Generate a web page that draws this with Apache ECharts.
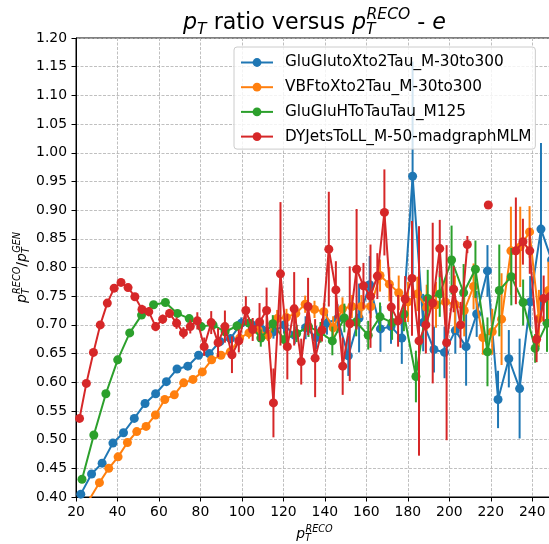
<!DOCTYPE html>
<html>
<head>
<meta charset="utf-8">
<script src="https://cdn.jsdelivr.net/npm/echarts@6/dist/echarts.min.js"></script>
<style>html,body{margin:0;padding:0;background:#fff;}#c{width:549px;height:544px;}</style>
</head>
<body>
<div id="c"></div>
<script>
// ---------------- data ----------------
const seriesNames = ['GluGlutoXto2Tau_M-30to300', 'VBFtoXto2Tau_M-30to300', 'GluGluHToTauTau_M125', 'DYJetsToLL_M-50-madgraphMLM'];
const seriesColors = ['#1f77b4', '#ff7f0e', '#2ca02c', '#d62728'];

const xAxisMin = 20, xAxisMax = 250, xAxisStep = 20;
const yAxisMin = 0.40, yAxisMax = 1.20, yAxisStep = 0.05;

// GluGlutoXto2Tau_M-30to300
const gluX = [22.3, 27.5, 32.6, 37.8, 42.9, 48.1, 53.3, 58.4, 63.6, 68.7, 73.9, 79.1, 84.2, 89.4, 94.5, 99.7, 104.9, 110.0, 115.2, 120.3, 125.5, 130.7, 135.8, 141.0, 146.1, 151.3, 156.5, 161.6, 166.8, 171.9, 177.1, 182.3, 187.4, 192.6, 197.7, 202.9, 208.1, 213.2, 218.4, 223.5, 228.7, 233.9, 239.0, 244.2, 249.3];
const gluY = [0.405, 0.440, 0.459, 0.494, 0.512, 0.537, 0.563, 0.580, 0.601, 0.623, 0.628, 0.647, 0.650, 0.671, 0.676, 0.703, 0.700, 0.691, 0.688, 0.700, 0.682, 0.695, 0.678, 0.703, 0.711, 0.646, 0.712, 0.770, 0.693, 0.697, 0.677, 0.959, 0.704, 0.657, 0.652, 0.690, 0.662, 0.719, 0.794, 0.570, 0.641, 0.589, 0.740, 0.867, 0.813];
const gluErr = [0.003, 0.003, 0.003, 0.003, 0.003, 0.003, 0.003, 0.003, 0.003, 0.005, 0.005, 0.005, 0.005, 0.008, 0.008, 0.01, 0.01, 0.012, 0.012, 0.015, 0.015, 0.02, 0.02, 0.02, 0.025, 0.035, 0.06, 0.05, 0.04, 0.03, 0.045, 0.2, 0.05, 0.04, 0.045, 0.04, 0.068, 0.04, 0.045, 0.05, 0.05, 0.087, 0.045, 0.15, 0.08];

// VBFtoXto2Tau_M-30to300
const vbfX = [22.3, 26.8, 31.3, 35.8, 40.3, 44.8, 49.3, 53.8, 58.3, 62.8, 67.4, 71.9, 76.4, 80.9, 85.4, 89.9, 94.4, 98.9, 103.4, 107.9, 112.5, 117.0, 121.5, 126.0, 130.5, 135.0, 139.5, 144.0, 148.5, 153.0, 157.6, 162.1, 166.6, 171.1, 175.6, 180.1, 184.6, 189.1, 193.6, 198.1, 202.7, 207.2, 211.7, 216.2, 220.7, 225.2, 229.7, 234.2, 238.7, 243.2, 247.8];
const vbfY = [0.370, 0.398, 0.425, 0.450, 0.470, 0.495, 0.514, 0.523, 0.543, 0.570, 0.578, 0.599, 0.605, 0.618, 0.639, 0.647, 0.653, 0.677, 0.686, 0.691, 0.682, 0.711, 0.713, 0.720, 0.736, 0.727, 0.723, 0.695, 0.728, 0.732, 0.732, 0.732, 0.786, 0.771, 0.756, 0.740, 0.754, 0.730, 0.735, 0.740, 0.736, 0.725, 0.767, 0.678, 0.688, 0.710, 0.829, 0.836, 0.862, 0.711, 0.760];
const vbfErr = [0.003, 0.003, 0.003, 0.003, 0.003, 0.003, 0.003, 0.003, 0.003, 0.003, 0.003, 0.005, 0.005, 0.005, 0.005, 0.005, 0.005, 0.01, 0.01, 0.01, 0.01, 0.015, 0.015, 0.015, 0.015, 0.015, 0.015, 0.02, 0.02, 0.02, 0.02, 0.02, 0.028, 0.03, 0.03, 0.035, 0.03, 0.04, 0.04, 0.04, 0.05, 0.045, 0.04, 0.03, 0.04, 0.08, 0.077, 0.07, 0.045, 0.05, 0.05];

// GluGluHToTauTau_M125
const hX = [22.9, 28.6, 34.4, 40.1, 45.9, 51.6, 57.4, 63.1, 68.9, 74.6, 80.4, 86.1, 91.9, 97.6, 103.4, 109.1, 114.9, 120.6, 126.4, 132.1, 137.9, 143.6, 149.4, 155.1, 160.9, 166.6, 172.4, 178.1, 183.9, 189.6, 195.4, 201.1, 206.9, 212.6, 218.4, 224.1, 229.9, 235.6, 241.4, 247.1];
const hY = [0.431, 0.508, 0.580, 0.639, 0.686, 0.717, 0.735, 0.739, 0.720, 0.711, 0.697, 0.700, 0.688, 0.698, 0.703, 0.677, 0.702, 0.674, 0.685, 0.697, 0.687, 0.672, 0.712, 0.705, 0.682, 0.714, 0.704, 0.719, 0.610, 0.746, 0.754, 0.813, 0.756, 0.797, 0.653, 0.760, 0.784, 0.739, 0.659, 0.703];
const hErr = [0.003, 0.003, 0.003, 0.003, 0.003, 0.003, 0.003, 0.003, 0.003, 0.003, 0.008, 0.008, 0.008, 0.008, 0.01, 0.015, 0.015, 0.015, 0.015, 0.018, 0.018, 0.025, 0.025, 0.025, 0.025, 0.025, 0.03, 0.03, 0.045, 0.05, 0.04, 0.06, 0.05, 0.05, 0.06, 0.08, 0.05, 0.04, 0.025, 0.05];

// DYJetsToLL_M-50-madgraphMLM
const dyX = [21.7, 25.0, 28.4, 31.7, 35.1, 38.4, 41.7, 45.1, 48.4, 51.8, 55.1, 58.4, 61.8, 65.1, 68.5, 71.8, 75.1, 78.5, 81.8, 85.2, 88.5, 91.8, 95.2, 98.5, 101.9, 105.2, 108.5, 111.9, 115.2, 118.6, 121.9, 125.2, 128.6, 131.9, 135.3, 138.6, 141.9, 145.3, 148.6, 152.0, 155.3, 158.6, 162.0, 165.3, 168.7, 172.0, 175.3, 178.7, 182.0, 185.4, 188.7, 192.0, 195.4, 198.7, 202.1, 205.4, 208.7, 212.1, 215.4, 218.8, 222.1, 225.4, 228.8, 232.1, 235.5, 238.8, 242.1, 245.5, 248.8];
const dyY = [0.537, 0.598, 0.652, 0.700, 0.738, 0.764, 0.774, 0.765, 0.749, 0.727, 0.723, 0.697, 0.710, 0.720, 0.703, 0.686, 0.697, 0.707, 0.662, 0.704, 0.669, 0.697, 0.648, 0.672, 0.725, 0.692, 0.705, 0.725, 0.564, 0.789, 0.662, 0.728, 0.636, 0.732, 0.642, 0.691, 0.832, 0.761, 0.628, 0.702, 0.797, 0.768, 0.750, 0.785, 0.896, 0.731, 0.707, 0.745, 0.781, 0.672, 0.700, 0.738, 0.833, 0.669, 0.762, 0.700, 0.840, null, null, 0.909, null, null, null, 0.829, 0.845, 0.829, 0.675, 0.746, 0.750];
const dyErr = [0.004, 0.004, 0.004, 0.004, 0.004, 0.004, 0.004, 0.004, 0.004, 0.008, 0.008, 0.008, 0.008, 0.008, 0.01, 0.01, 0.012, 0.015, 0.016, 0.02, 0.025, 0.028, 0.032, 0.02, 0.025, 0.02, 0.033, 0.04, 0.06, 0.125, 0.057, 0.064, 0.04, 0.05, 0.068, 0.02, 0.10, 0.05, 0.05, 0.10, 0.105, 0.04, 0.09, 0.04, 0.075, 0.04, 0.045, 0.04, 0.10, 0.20, 0.05, 0.14, 0.05, 0.17, 0.04, 0.04, 0.015, 0, 0, 0, 0, 0, 0, 0.093, 0.04, 0.04, 0.04, 0.04, 0.04];

const allSeries = [
  {x: gluX, y: gluY, e: gluErr},
  {x: vbfX, y: vbfY, e: vbfErr},
  {x: hX, y: hY, e: hErr},
  {x: dyX, y: dyY, e: dyErr}
];

// ---------------- layout / style ----------------
const FONT = '"DejaVu Sans", sans-serif';
const GRID = {left: 76, top: 38, width: 477, height: 459};

const measureCtx = document.createElement('canvas').getContext('2d');
function textWidth(t, size, italic) {
  measureCtx.font = (italic ? 'italic ' : '') + size + 'px ' + FONT;
  return measureCtx.measureText(t).width;
}
function textEl(t, x, baseline, size, italic) {
  return {
    type: 'text', x: x, y: baseline - 0.36 * size,
    style: {text: t, font: (italic ? 'italic ' : '') + size + 'px ' + FONT, fill: '#000',
            textAlign: 'left', textVerticalAlign: 'middle', verticalAlign: 'middle'}
  };
}
// parts: {t, it, sub, sup}
function mathPieces(parts, size) {
  const kids = [];
  let x = 0;
  const small = size * 0.7;
  parts.forEach(p => {
    kids.push(textEl(p.t, x, 0, size, p.it));
    x += textWidth(p.t, size, p.it);
    if (p.sub || p.sup) {
      let adv = 0;
      if (p.sup) { kids.push(textEl(p.sup, x + 0.02 * size, -0.45 * size, small, true)); adv = Math.max(adv, textWidth(p.sup, small, true) + 0.02 * size); }
      if (p.sub) { kids.push(textEl(p.sub, x, 0.2 * size, small, true)); adv = Math.max(adv, textWidth(p.sub, small, true)); }
      x += adv;
    }
  });
  return {kids: kids, width: x};
}

const titleParts = [{t: 'p', it: true, sub: 'T'}, {t: ' ratio versus '}, {t: 'p', it: true, sub: 'T', sup: 'RECO'}, {t: ' - '}, {t: 'e', it: true}];
const xLabelParts = [{t: 'p', it: true, sub: 'T', sup: 'RECO'}];
const yLabelParts = [{t: 'p', it: true, sub: 'T', sup: 'RECO'}, {t: '/'}, {t: 'p', it: true, sub: 'T', sup: 'GEN'}];

const title = mathPieces(titleParts, 22.2);
const xLab = mathPieces(xLabelParts, 13.9);
const yLab = mathPieces(yLabelParts, 13.9);
const plotCenterX = GRID.left + GRID.width / 2;
const plotCenterY = GRID.top + GRID.height / 2;

const graphic = [
  {type: 'group', x: plotCenterX - title.width / 2, y: 31, children: title.kids, z: 100},
  {type: 'group', x: plotCenterX - xLab.width / 2, y: 539, children: xLab.kids, z: 100},
  {type: 'group', x: 27, y: plotCenterY + yLab.width / 2, rotation: Math.PI / 2, children: yLab.kids, z: 100}
];

// ---------------- series ----------------
const series = [];
allSeries.forEach((s, i) => {
  const color = seriesColors[i];
  const errData = [];
  s.x.forEach((x, k) => {
    if (s.y[k] !== null && s.e[k] > 0) errData.push([x, s.y[k] - s.e[k], s.y[k] + s.e[k]]);
  });
  series.push({
    type: 'custom',
    name: seriesNames[i] + ' err',
    data: errData,
    encode: {x: 0, y: [1, 2]},
    clip: true,
    silent: true,
    z: 2 + i * 2,
    renderItem: function (params, api) {
      const p1 = api.coord([api.value(0), api.value(1)]);
      const p2 = api.coord([api.value(0), api.value(2)]);
      return {type: 'line', shape: {x1: p1[0], y1: p1[1], x2: p2[0], y2: p2[1]},
              style: {stroke: color, lineWidth: 2}};
    }
  });
  series.push({
    type: 'line',
    name: seriesNames[i],
    data: s.x.map((x, k) => [x, s.y[k] === null ? '-' : s.y[k]]),
    symbol: 'circle',
    symbolSize: 9,
    showSymbol: true,
    connectNulls: false,
    clip: true,
    silent: true,
    z: 3 + i * 2,
    itemStyle: {color: color, borderWidth: 0},
    lineStyle: {color: color, width: 2},
    emphasis: {disabled: true}
  });
});

const chart = echarts.init(document.getElementById('c'), null, {renderer: 'canvas'});
chart.setOption({
  animation: false,
  backgroundColor: '#fff',
  grid: Object.assign({show: true, borderColor: '#000', borderWidth: 1, backgroundColor: 'transparent', containLabel: false, outerBoundsMode: 'none'}, GRID),
  xAxis: {
    type: 'value', min: xAxisMin, max: xAxisMax, interval: xAxisStep,
    axisLine: {show: true, onZero: false, lineStyle: {color: '#000', width: 1}},
    axisTick: {show: true, inside: false, length: 4.5, lineStyle: {color: '#000', width: 1}},
    axisLabel: {show: true, margin: 8, fontSize: 13.9, color: '#000', fontFamily: FONT,
                formatter: v => (v > 245 ? '' : String(v))},
    splitLine: {show: true, lineStyle: {color: '#b0b0b0', width: 0.8, type: [3, 1.5]}}
  },
  yAxis: {
    type: 'value', min: yAxisMin, max: yAxisMax, interval: yAxisStep,
    axisLine: {show: true, onZero: false, lineStyle: {color: '#000', width: 1}},
    axisTick: {show: true, inside: false, length: 4.5, lineStyle: {color: '#000', width: 1}},
    axisLabel: {show: true, margin: 9, fontSize: 13.9, color: '#000', fontFamily: FONT,
                formatter: v => v.toFixed(2)},
    splitLine: {show: true, lineStyle: {color: '#b0b0b0', width: 0.8, type: [3, 1.5]}}
  },
  legend: {
    data: seriesNames,
    orient: 'vertical',
    left: 234, top: 47,
    itemWidth: 32, itemHeight: 11, itemGap: 9.7,
    padding: [8, 4, 5, 6],
    backgroundColor: 'rgba(255,255,255,0.8)',
    borderColor: '#cccccc', borderWidth: 1, borderRadius: 3,
    selectedMode: false,
    textStyle: {fontSize: 15.3, fontFamily: FONT, color: '#000', padding: [0, 0, 0, 7]},
    z: 50
  },
  graphic: graphic,
  series: series
});
</script>
</body>
</html>
